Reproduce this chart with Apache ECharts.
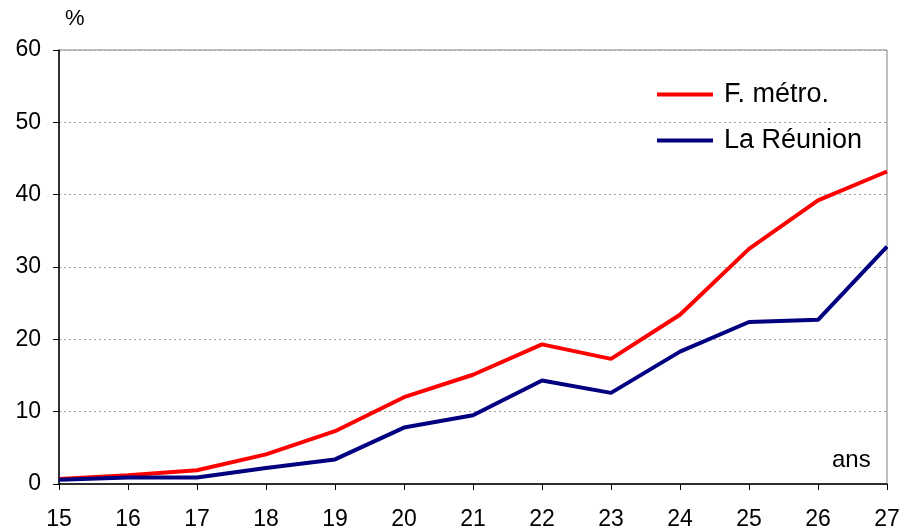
<!DOCTYPE html>
<html>
<head>
<meta charset="utf-8">
<script src="https://cdn.jsdelivr.net/npm/echarts@6/dist/echarts.min.js"></script>
<style>
  html, body { margin: 0; padding: 0; background: #fff; }
  #main { width: 903px; height: 531px; }
</style>
</head>
<body>
<div id="main"></div>
<script>
// ages (ans)
const ages = ['15', '16', '17', '18', '19', '20', '21', '22', '23', '24', '25', '26', '27']
// part en %
const metro = [0.7, 1.2, 1.9, 4.1, 7.3, 12.0, 15.1, 19.3, 17.3, 23.4, 32.5, 39.2, 43.2]
const reunion = [0.6, 0.9, 0.9, 2.2, 3.4, 7.8, 9.5, 14.3, 12.6, 18.3, 22.4, 22.7, 32.8]

const font = 'Arial, "Liberation Sans", sans-serif'
let myChart = echarts.init(document.getElementById('main'))
myChart.setOption({
  animation: false,
  backgroundColor: '#fff',
  textStyle: { fontFamily: font },
  grid: {
    left: 59,
    right: 16,
    top: 50,
    bottom: 45,
    show: true,
    borderColor: '#808080',
    borderWidth: 1
  },
  legend: {
    orient: 'vertical',
    left: 652,
    top: 76,
    itemWidth: 56,
    itemHeight: 4,
    itemGap: 19,
    icon: 'rect',
    textStyle: { fontSize: 27, color: '#000', padding: [0, 0, 0, 6] },
    data: ['F. métro.', 'La Réunion']
  },
  xAxis: {
    type: 'category',
    boundaryGap: false,
    data: ages,
    axisLine: { lineStyle: { color: '#000', width: 1.5 } },
    axisTick: { show: true, length: 6, lineStyle: { color: '#000' } },
    axisLabel: { fontSize: 23, color: '#000', margin: 24 },
    splitLine: { show: false }
  },
  yAxis: {
    type: 'value',
    min: 0,
    max: 60,
    interval: 10,
    axisLine: { show: true, lineStyle: { color: '#000', width: 1.5 } },
    axisTick: { show: true, length: 6, lineStyle: { color: '#000' } },
    axisLabel: { fontSize: 23, color: '#000', margin: 18 },
    splitLine: { show: true, lineStyle: { color: '#a0a0a0', type: [2, 3], width: 1 } }
  },
  graphic: [
    { type: 'text', left: 65, top: 8, style: { text: '%', fontSize: 22, fill: '#000', fontFamily: font } },
    { type: 'text', left: 832, top: 448, style: { text: 'ans', fontSize: 24, fill: '#000', fontFamily: font } }
  ],
  series: [
    {
      name: 'F. métro.',
      type: 'line',
      data: metro,
      showSymbol: false,
      symbol: 'none',
      color: '#ff0000',
      lineStyle: { color: '#ff0000', width: 4 }
    },
    {
      name: 'La Réunion',
      type: 'line',
      data: reunion,
      showSymbol: false,
      symbol: 'none',
      color: '#000080',
      lineStyle: { color: '#000080', width: 4 }
    }
  ]
})
</script>
</body>
</html>
